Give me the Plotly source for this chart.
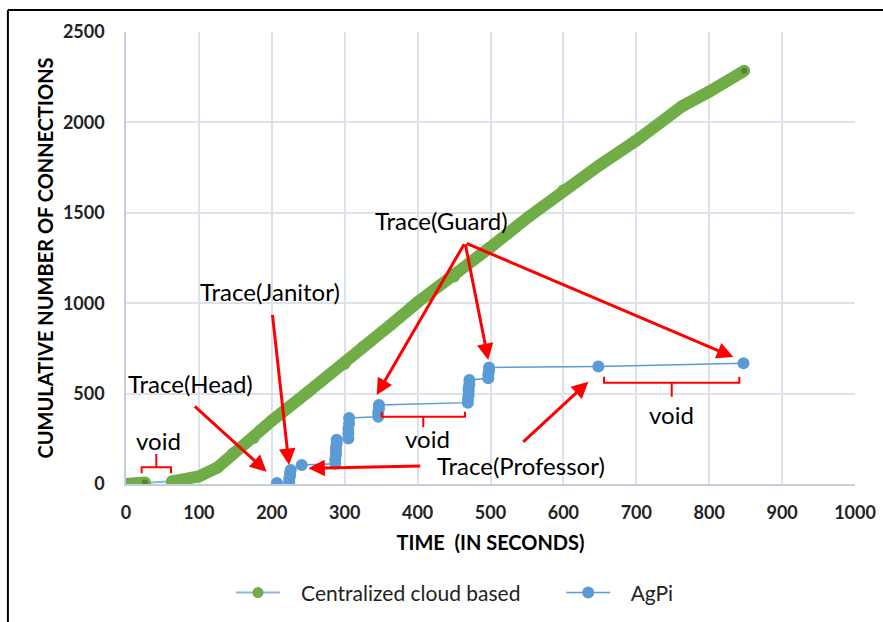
import plotly.graph_objects as go
import numpy as np

# ---------------- data ----------------
cloud_time = [0, 10, 20, 26, 63, 80, 100, 125, 147, 175, 200, 250, 300, 326, 363,
              400, 450, 500, 553, 600, 650, 700, 763, 800, 848]
cloud_conn = [0, 2, 5, 8, 15, 25, 42, 90, 170, 255, 350, 510, 665, 760, 880,
              1005, 1148, 1310, 1480, 1625, 1765, 1900, 2090, 2170, 2285]

agpi_time = [207, 224, 224, 225, 225, 226, 241, 287, 287, 288, 288, 288, 289, 289,
             305, 305, 305, 306, 306, 346, 346, 347, 347,
             469, 469, 470, 470, 470, 471, 471, 497, 497, 498, 498, 648, 847]
agpi_conn = [5, 12, 30, 45, 62, 78, 105, 112, 135, 160, 180, 200, 225, 245,
             252, 280, 305, 335, 365, 372, 395, 418, 437,
             450, 470, 490, 510, 530, 552, 575, 585, 605, 625, 645, 650, 668]

x_ticks = [0, 100, 200, 300, 400, 500, 600, 700, 800, 900, 1000]
y_ticks = [0, 500, 1000, 1500, 2000, 2500]

GREEN = "#70ad47"
BLUE = "#5b9bd5"
LIGHTBLUE = "#8eb4e3"
RED = "#ff0000"
FONT = "Lato"
PAD = "\u00a0\u00a0\u00a0"

# thick green band broken where the series has a void (long gap with ~no new connections)
cx = np.array(cloud_time, dtype=float)
cy = np.array(cloud_conn, dtype=float)
gap_idx = np.where((np.diff(cx) > 30) & (np.diff(cy) < 20))[0]
band_x = list(cloud_time)
band_y = list(cloud_conn)
for k in reversed(gap_idx):
    band_x.insert(k + 1, None)
    band_y.insert(k + 1, None)

fig = go.Figure()

# connecting thin line of the centralized series (visible in the void) + legend entry
fig.add_trace(go.Scatter(
    x=cloud_time, y=cloud_conn, mode="lines+markers",
    name=PAD + "Centralized cloud based", legend="legend",
    line=dict(color=LIGHTBLUE, width=2),
    marker=dict(color=GREEN, size=11),
))
# dense-marker appearance: thick green band
fig.add_trace(go.Scatter(
    x=band_x, y=band_y, mode="lines+markers", showlegend=False,
    line=dict(color=GREEN, width=12), marker=dict(color=GREEN, size=12),
    connectgaps=False, hoverinfo="skip",
))
# darker marker centres at segment ends
ends = [int(gap_idx[0]), len(cloud_time) - 1]
fig.add_trace(go.Scatter(
    x=[cloud_time[i] for i in ends], y=[cloud_conn[i] for i in ends],
    mode="markers", showlegend=False,
    marker=dict(color="#548235", size=6), hoverinfo="skip",
))
fig.add_trace(go.Scatter(
    x=agpi_time, y=agpi_conn, mode="lines+markers", name=PAD + "AgPi",
    legend="legend2",
    line=dict(color=BLUE, width=1.5),
    marker=dict(color=BLUE, size=12),
))

# ---------------- annotations ----------------
def arrow(x, y, ax, ay):
    fig.add_annotation(x=x, y=y, ax=ax, ay=ay, xref="x", yref="y",
                       axref="pixel", ayref="pixel", text="", showarrow=True,
                       arrowhead=2, arrowsize=1.1, arrowwidth=3,
                       arrowcolor=RED, standoff=0, startstandoff=0)

def label(x, y, t, size=24):
    fig.add_annotation(x=x, y=y, xref="x", yref="y", text=t, showarrow=False,
                       font=dict(family=FONT, size=size, color="#000000"))

label(88.5, 558, "Trace(Head)")
label(198.2, 1067, "Trace(Janitor)")
label(432.1, 1460, "Trace(Guard)")
label(541.2, 100, "Trace(Professor)")
label(43.9, 243, "void")
label(412.9, 249, "void")
label(748.6, 382, "void")

arrow(193.0, 68, -73.4, -66.7)          # Head
arrow(223.6, 105, -16.7, -151.7)        # Janitor
arrow(343.9, 492, 88.3, -152.3)         # Guard 1
arrow(497.0, 686, -23.3, -117.3)        # Guard 2
arrow(833.1, 702, -268.3, -114.3)       # Guard 3
arrow(250.1, 87, 113.4, -2.3)           # Professor 1
arrow(634.2, 566, -66.6, 61.6)          # Professor 2

# void brackets
def bracket(x0, x1, xs, yh, yend, ystem):
    path = (f"M {x0} {yend} L {x0} {yh} L {x1} {yh} L {x1} {yend} "
            f"M {xs} {yh} L {xs} {ystem}")
    fig.add_shape(type="path", path=path, xref="x", yref="y",
                  line=dict(color=RED, width=2))

bracket(21.5, 61.7, 41.6, 92, 59, 166)
bracket(350.7, 465.0, 407.8, 372, 400, 314)
bracket(655.7, 841.3, 748.6, 560, 593, 483)

# outer black frame (top and left edges visible)
fig.add_shape(type="line", xref="paper", yref="paper",
              x0=-0.162, x1=1.2, y0=1.0487, y1=1.0487,
              line=dict(color="#000000", width=2))
fig.add_shape(type="line", xref="paper", yref="paper",
              x0=-0.162, x1=-0.162, y0=1.0487, y1=-0.4,
              line=dict(color="#000000", width=2))

GRID = "#dde2ea"
fig.update_xaxes(range=[0, 1000], tickvals=x_ticks, ticktext=[str(v) for v in x_ticks],
                 showgrid=True, gridcolor=GRID, gridwidth=1.5, zeroline=False,
                 showline=True, linecolor="#c5cedb", linewidth=1.5,
                 ticks="", ticklabelstandoff=12, automargin=False,
                 tickfont=dict(family=FONT, size=18, color="#222222", weight="bold"),
                 title=dict(text="TIME  (IN SECONDS)", standoff=14,
                            font=dict(family=FONT, size=20, color="#000000", weight="bold")))
fig.update_yaxes(range=[0, 2500], tickvals=y_ticks, ticktext=[str(v) for v in y_ticks],
                 showgrid=True, gridcolor=GRID, gridwidth=1.5, zeroline=False,
                 showline=True, linecolor="#c5cedb", linewidth=1.5,
                 ticks="", ticklabelstandoff=16, automargin=False,
                 tickfont=dict(family=FONT, size=18, color="#222222", weight="bold"),
                 title=dict(text="CUMULATIVE NUMBER OF CONNECTIONS", standoff=4,
                            font=dict(family=FONT, size=20, color="#000000", weight="bold")))

legend_style = dict(orientation="h", xanchor="left", y=-0.241, yanchor="middle",
                    font=dict(family=FONT, size=21, color="#222222"),
                    itemwidth=44, bgcolor="rgba(0,0,0,0)")
fig.update_layout(
    width=883, height=622,
    margin=dict(l=126, r=28, t=32, b=138, autoexpand=False),
    paper_bgcolor="white", plot_bgcolor="white",
    showlegend=True,
    legend=dict(x=0.144, **legend_style),
    legend2=dict(x=0.597, **legend_style),
)

fig.write_html("out.html", config={"displayModeBar": False},
               post_script="document.body.style.margin='0';document.body.style.padding='0';")
